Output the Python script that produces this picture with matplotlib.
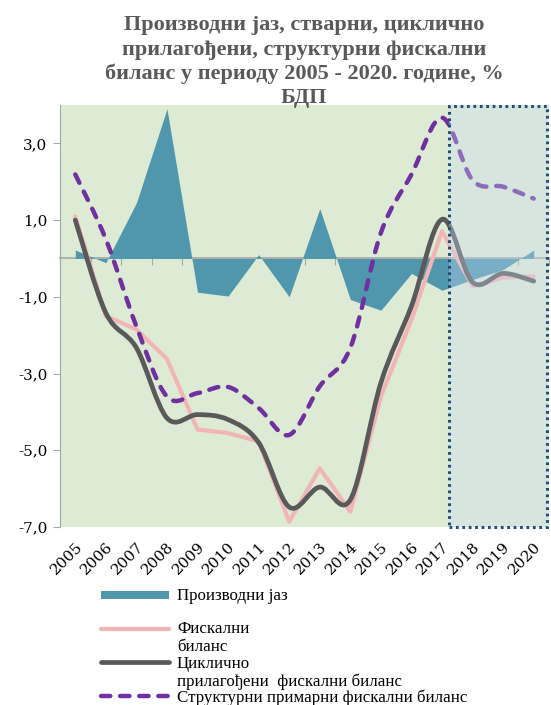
import matplotlib.pyplot as plt
import numpy as np
from matplotlib.path import Path
from matplotlib.patches import PathPatch, Rectangle
from matplotlib.lines import Line2D

years = ['2005', '2006', '2007', '2008', '2009', '2010', '2011', '2012',
         '2013', '2014', '2015', '2016', '2017', '2018', '2019', '2020']

output_gap = [0.22, -0.11, 1.45, 3.9, -0.88, -0.98, 0.1, -1.0,
              1.3, -1.07, -1.35, -0.39, -0.83, -0.55, -0.29, 0.22]
fiscal_balance = [1.09, -1.5, -1.85, -2.62, -4.46, -4.55, -4.77, -6.86,
                  -5.47, -6.6, -3.6, -1.6, 0.71, -0.72, -0.5, -0.46]
cyclical_adj = [1.0, -1.42, -2.33, -4.16, -4.07, -4.2, -4.8, -6.48,
                -5.96, -6.29, -3.24, -1.24, 1.02, -0.62, -0.39, -0.59]
structural = [2.19, 0.5, -1.77, -3.6, -3.51, -3.35, -3.9, -4.6,
              -3.33, -2.33, 0.67, 2.19, 3.67, 2.04, 1.87, 1.56]

title_lines = ['Производни јаз, стварни, циклично',
               'прилагођени, структурни фискални',
               'биланс у периоду 2005 - 2020. године, %',
               'БДП']

teal = '#5097AE'
pink = '#F2B5B5'
dgray = '#595959'
purple = '#7030A0'
axgray = '#A6A6A6'
serif = 'DejaVu Serif'
serif2 = 'Liberation Serif'


def smooth_path(xs, ys):
    # bezier through the points, like excel smoothed lines
    pts = np.column_stack([xs, ys]).astype(float)
    n = len(pts)
    verts = [pts[0]]
    codes = [Path.MOVETO]
    for i in range(n - 1):
        p0 = pts[max(i - 1, 0)]
        p1 = pts[i]
        p2 = pts[i + 1]
        p3 = pts[min(i + 2, n - 1)]
        c1 = p1 + (p2 - p0) / 6.0
        c2 = p2 - (p3 - p1) / 6.0
        verts += [c1, c2, p2]
        codes += [Path.CURVE4] * 3
    return Path(verts, codes)


x = np.arange(len(years))

fig = plt.figure(figsize=(5.51, 7.05), dpi=100)
ax = fig.add_axes([60 / 551, 1 - 527 / 705, 489 / 551, 422 / 705])
ax.set_facecolor('#DEEBD4')
ax.set_xlim(-0.5, len(years) - 0.5)
ax.set_ylim(-7, 4)

ax.fill_between(x, output_gap, 0, color=teal, linewidth=0, zorder=2)
ax.plot(x, fiscal_balance, color=pink, linewidth=3, zorder=3,
        solid_joinstyle='round', solid_capstyle='round')
ax.add_patch(PathPatch(smooth_path(x, cyclical_adj), fill=False, edgecolor=dgray,
                       linewidth=3.4, capstyle='round', zorder=4))
ax.add_patch(PathPatch(smooth_path(x, structural), fill=False, edgecolor=purple,
                       linewidth=3.2, linestyle=(0, (2.1, 2.2)), capstyle='round',
                       zorder=5))

# forecast box
ax.add_patch(Rectangle((12.22, -7), 15.45 - 12.22, 11, facecolor='#C8DDF3', alpha=0.35,
                       edgecolor='none', zorder=6))
ax.add_patch(Rectangle((12.22, -7), 15.45 - 12.22, 10.97, facecolor='none',
                       edgecolor='#1F4E79', linewidth=2.2, linestyle=(0, (0.9, 1.2)),
                       zorder=7, clip_on=False))

# axes styling
for s in ['top', 'right', 'bottom']:
    ax.spines[s].set_visible(False)
ax.spines['left'].set_color(axgray)
ax.set_yticks([3, 1, -1, -3, -5, -7])
ax.set_yticklabels(['3,0', '1,0', '-1,0', '-3,0', '-5,0', '-7,0'],
                   fontfamily=serif, fontsize=11)
ax.tick_params(axis='y', length=5, color=axgray, pad=4)
ax.set_xticks(x)
ax.set_xticklabels(years, rotation=45, ha='right', rotation_mode='anchor',
                   fontfamily=serif, fontsize=11)
ax.tick_params(axis='x', length=0, pad=9)

# category axis crossing at zero
zero_pos = (0 - ax.get_ylim()[0]) / (ax.get_ylim()[1] - ax.get_ylim()[0])
sec = ax.secondary_xaxis(zero_pos)
sec.set_alignment('bottom')
sec.set_xticks(np.arange(len(years) + 1) - 0.5)
sec.set_xticklabels([])
sec.tick_params(length=5, color=axgray, direction='out')
for s in sec.spines.values():
    s.set_color(axgray)
    s.set_linewidth(1.2)

fy = lambda p: 1 - p / 705

for line, base in zip(title_lines, [30, 54.5, 78.5, 103]):
    fig.text(304 / 551, fy(base), line, ha='center', va='baseline', fontfamily=serif2,
             fontweight='bold', fontsize=16, color='#595959')

# legend
hx0, hx1, tx = 101 / 551, 169 / 551, 177 / 551
fig.add_artist(Rectangle((hx0, fy(599)), hx1 - hx0, 8 / 705, facecolor=teal,
                         edgecolor='none', transform=fig.transFigure))
fig.add_artist(Line2D([hx0, hx1], [fy(629), fy(629)], color=pink, linewidth=3,
                      solid_capstyle='round', transform=fig.transFigure))
fig.add_artist(Line2D([hx0, hx1], [fy(662), fy(662)], color=dgray, linewidth=3.4,
                      solid_capstyle='round', transform=fig.transFigure))
fig.add_artist(Line2D([hx0, hx1], [fy(696), fy(696)], color=purple, linewidth=3.2,
                      linestyle=(0, (2.1, 2.2)), dash_capstyle='round',
                      transform=fig.transFigure))
legend_texts = [('Производни јаз', 596), ('Фискални', 629), ('биланс', 647),
                ('Циклично', 664), ('прилагођени  фискални биланс', 682),
                ('Структурни примарни фискални биланс', 698)]
for t, p in legend_texts:
    fig.text(tx, fy(p), t, ha='left', va='center', fontfamily=serif2, fontsize=12.2)

fig.savefig('out.png', dpi=100)
